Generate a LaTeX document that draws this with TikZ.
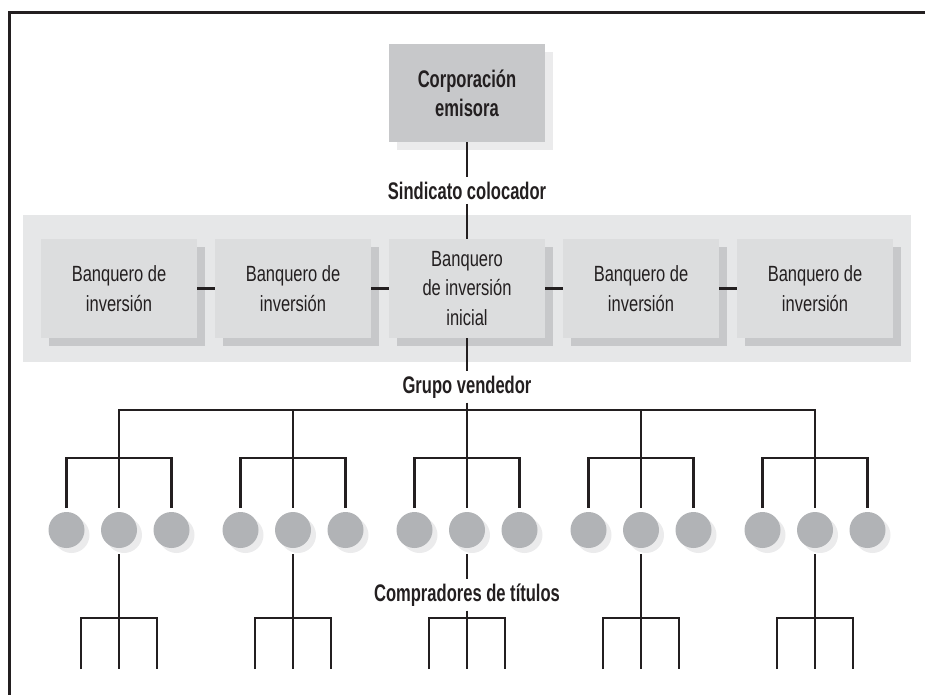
\documentclass[tikz,border=0pt]{standalone}
\usepackage{fontspec}
\setmainfont{Liberation Sans}[FakeStretch=0.75]
\newfontfamily\headfont{Liberation Sans}[FakeStretch=0.69]
\usepackage{xcolor}
\definecolor{Ink}{HTML}{231F20}
\definecolor{IssuerGray}{HTML}{C7C8CA}
\definecolor{IssuerShade}{HTML}{EBEBEC}
\definecolor{BandGray}{HTML}{E6E7E8}
\definecolor{BankGray}{HTML}{DCDDDE}
\definecolor{BankShade}{HTML}{C7C8CA}
\definecolor{DotGray}{HTML}{B1B3B6}
\definecolor{DotShade}{HTML}{EBEBEC}
\usepackage{tikz}
\usetikzlibrary{positioning,shadows}

\begin{document}
\begin{tikzpicture}[x=1pt,y=-1pt,
    font=\fontsize{22}{29.5}\selectfont,text=Ink,
    issuer/.style={rectangle,fill=IssuerGray,
      minimum width=156pt,minimum height=98pt,align=center,
      font=\headfont\bfseries\fontsize{24}{29}\selectfont,
      general shadow={fill=IssuerShade,shadow xshift=8pt,shadow yshift=-8pt}},
    bank/.style={rectangle,fill=BankGray,outer sep=0pt,
      minimum width=156pt,minimum height=99pt,align=center,
      general shadow={fill=BankShade,shadow xshift=8pt,shadow yshift=-8pt}},
    tier/.style={font=\headfont\bfseries\fontsize{24}{28}\selectfont,
      text height=17pt,inner xsep=2pt,inner ysep=4.5pt,anchor=base},
    dealer/.style={circle,fill=DotGray,minimum size=36pt,
      inner sep=0pt,outer sep=4pt,
      general shadow={fill=DotShade,shadow xshift=5pt,shadow yshift=-5pt}},
    wire/.style={draw=Ink,line width=2.5pt},
    frame/.style={draw=Ink,line width=3pt}
  ]
    \useasboundingbox (0,0) rectangle (925,695);
    \draw[frame] (9.5,695) |- (925,12.5);

    % band behind the syndicate
    \fill[BandGray] (23,215) rectangle (911,362);

    \node[issuer] (issuer) at (467,93) {Corporación\\emisora};
    \node[tier] (syndicate) at (467,199) {Sindicato colocador};

    \node[bank] (lead) at (467,288.5) {Banquero\\de inversión\\inicial};
    \node[bank,left=18pt of lead] (bankB) {Banquero de\\inversión};
    \node[bank,left=18pt of bankB] (bankA) {Banquero de\\inversión};
    \node[bank,right=18pt of lead] (bankC) {Banquero de\\inversión};
    \node[bank,right=18pt of bankC] (bankD) {Banquero de\\inversión};

    \node[tier] (sellers) at (467,393) {Grupo vendedor};
    \node[tier] (buyers) at (467,601) {Compradores de títulos};

    \draw[wire] (issuer) -- (syndicate);
    \draw[wire] (syndicate) -- (lead);
    \draw[wire] (bankA) -- (bankB);
    \draw[wire] (bankB) -- (lead);
    \draw[wire] (lead) -- (bankC);
    \draw[wire] (bankC) -- (bankD);
    \draw[wire] (lead) -- (sellers);

    % dealers and their buyers
    \foreach \k/\cx in {1/119,2/293,3/467,4/641,5/815}{
      \node[dealer] (d\k-1) at (\cx-52.5,530) {};
      \node[dealer] (d\k-2) at (\cx,530) {};
      \node[dealer] (d\k-3) at (\cx+52.5,530) {};
      \coordinate (bar\k) at (\cx,410);
      \coordinate (fork\k) at (\cx,458);
      \coordinate (split\k) at (\cx,618);
      \coordinate (end\k-1) at (\cx-38,669);
      \coordinate (end\k-2) at (\cx,669);
      \coordinate (end\k-3) at (\cx+38,669);
      \draw[wire] (d\k-1) |- (fork\k) -| (d\k-3);
      \draw[wire] (end\k-1) |- (split\k) -| (end\k-3);
    }
    \draw[wire,line cap=rect] (bar1) -- (bar5);
    \foreach \k in {1,2,4,5}{
      \draw[wire] (bar\k) -- (d\k-2);
      \draw[wire,shorten <=2pt] (d\k-2) -- (end\k-2);
    }
    \draw[wire] (sellers) -- (d3-2);
    \draw[wire,shorten <=2pt] (d3-2) -- (buyers);
    \draw[wire] (buyers) -- (end3-2);
  \end{tikzpicture}
\end{document}
